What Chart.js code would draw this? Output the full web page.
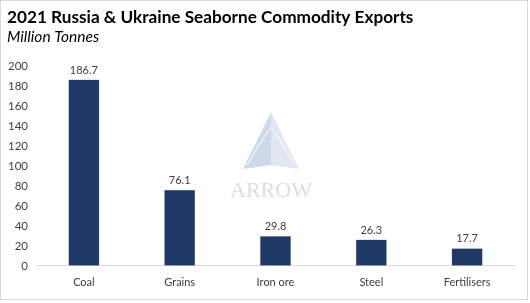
<!DOCTYPE html>
<html>
<head>
<meta charset="utf-8">
<script src="https://cdn.jsdelivr.net/npm/chart.js@4.4.1/dist/chart.umd.min.js"></script>
<style>
  html, body { margin: 0; padding: 0; background: #fff; }
  #wrap { position: absolute; left: 0; top: 0; width: 526px; height: 298px; border: 1px solid #d9d9d9; }
  canvas { display: block; }
</style>
</head>
<body>
<div id="wrap"><canvas id="chart" width="526" height="298"></canvas></div>
<script>
// chart data
const commodities = ['Coal', 'Grains', 'Iron ore', 'Steel', 'Fertilisers'];
const exportsMt = [186.7, 76.1, 29.8, 26.3, 17.7];
const yTicks = [0, 20, 40, 60, 80, 100, 120, 140, 160, 180, 200];

const font = "'Lato', 'Open Sans', sans-serif";

// faint ARROW logo behind the bars
const watermark = {
    id: 'watermark',
    beforeDatasetsDraw(chart) {
        const ctx = chart.ctx;
        const cx = 270, top = 111, base = 168;
        ctx.save();
        ctx.fillStyle = '#ccd9e8';
        ctx.beginPath();
        ctx.moveTo(cx, top);
        ctx.quadraticCurveTo(cx - 14, 140, cx - 28, base);
        ctx.lineTo(cx, base - 4);
        ctx.closePath();
        ctx.fill();
        ctx.fillStyle = '#e2e6f1';
        ctx.beginPath();
        ctx.moveTo(cx, top);
        ctx.quadraticCurveTo(cx + 14, 140, cx + 28, base);
        ctx.lineTo(cx, base - 4);
        ctx.closePath();
        ctx.fill();
        ctx.strokeStyle = '#ffffff';
        ctx.lineWidth = 1;
        ctx.beginPath();
        ctx.moveTo(cx - 24, base - 4);
        ctx.quadraticCurveTo(cx - 10, 140, cx, 126);
        ctx.quadraticCurveTo(cx + 10, 140, cx + 24, base - 4);
        ctx.stroke();
        ctx.fillStyle = '#d6deea';
        ctx.font = "22px 'Liberation Serif', serif";
        ctx.textAlign = 'center';
        ctx.textBaseline = 'alphabetic';
        ctx.fillText('ARROW', cx, 196);
        ctx.restore();
    }
};

// value labels above each bar
const valueLabels = {
    id: 'valueLabels',
    afterDatasetsDraw(chart) {
        const ctx = chart.ctx;
        const meta = chart.getDatasetMeta(0);
        ctx.save();
        ctx.fillStyle = '#404040';
        ctx.font = '11px ' + font;
        ctx.textAlign = 'center';
        ctx.textBaseline = 'bottom';
        meta.data.forEach((bar, i) => {
            ctx.fillText(exportsMt[i].toFixed(1), bar.x, bar.y - 4);
        });
        ctx.restore();
    }
};

const ctx = document.getElementById('chart').getContext('2d');
window.myChart = new Chart(ctx, {
    type: 'bar',
    data: {
        labels: commodities,
        datasets: [{
            data: exportsMt,
            backgroundColor: '#1f3864',
            borderColor: '#8497b0',
            borderWidth: 0.5,
            barPercentage: 0.65,
            categoryPercentage: 0.5
        }]
    },
    options: {
        responsive: false,
        animation: false,
        layout: { padding: { left: 6, right: 12, top: 0, bottom: 0 } },
        plugins: {
            legend: { display: false },
            tooltip: { enabled: false },
            title: {
                display: true,
                text: '2021 Russia & Ukraine Seaborne Commodity Exports',
                align: 'start',
                color: '#000',
                font: { family: font, size: 17.2, weight: 'bold' },
                padding: { top: 6, bottom: 0 }
            },
            subtitle: {
                display: true,
                text: 'Million Tonnes',
                align: 'start',
                color: '#000',
                font: { family: font, size: 15.5, style: 'italic' },
                padding: { top: 0, bottom: 20 }
            }
        },
        scales: {
            x: {
                grid: { display: false, drawTicks: false },
                border: { color: '#d9d9d9', width: 1 },
                ticks: { color: '#404040', font: { family: font, size: 11 }, padding: 10 }
            },
            y: {
                min: 0,
                max: 200,
                afterBuildTicks(axis) { axis.ticks = yTicks.map(v => ({ value: v })); },
                afterFit(axis) { axis.width = 29; },
                grid: { display: false, drawTicks: false },
                border: { display: false },
                ticks: { color: '#404040', font: { family: font, size: 11.5 }, padding: 8 }
            }
        }
    },
    plugins: [watermark, valueLabels]
});
</script>
</body>
</html>
